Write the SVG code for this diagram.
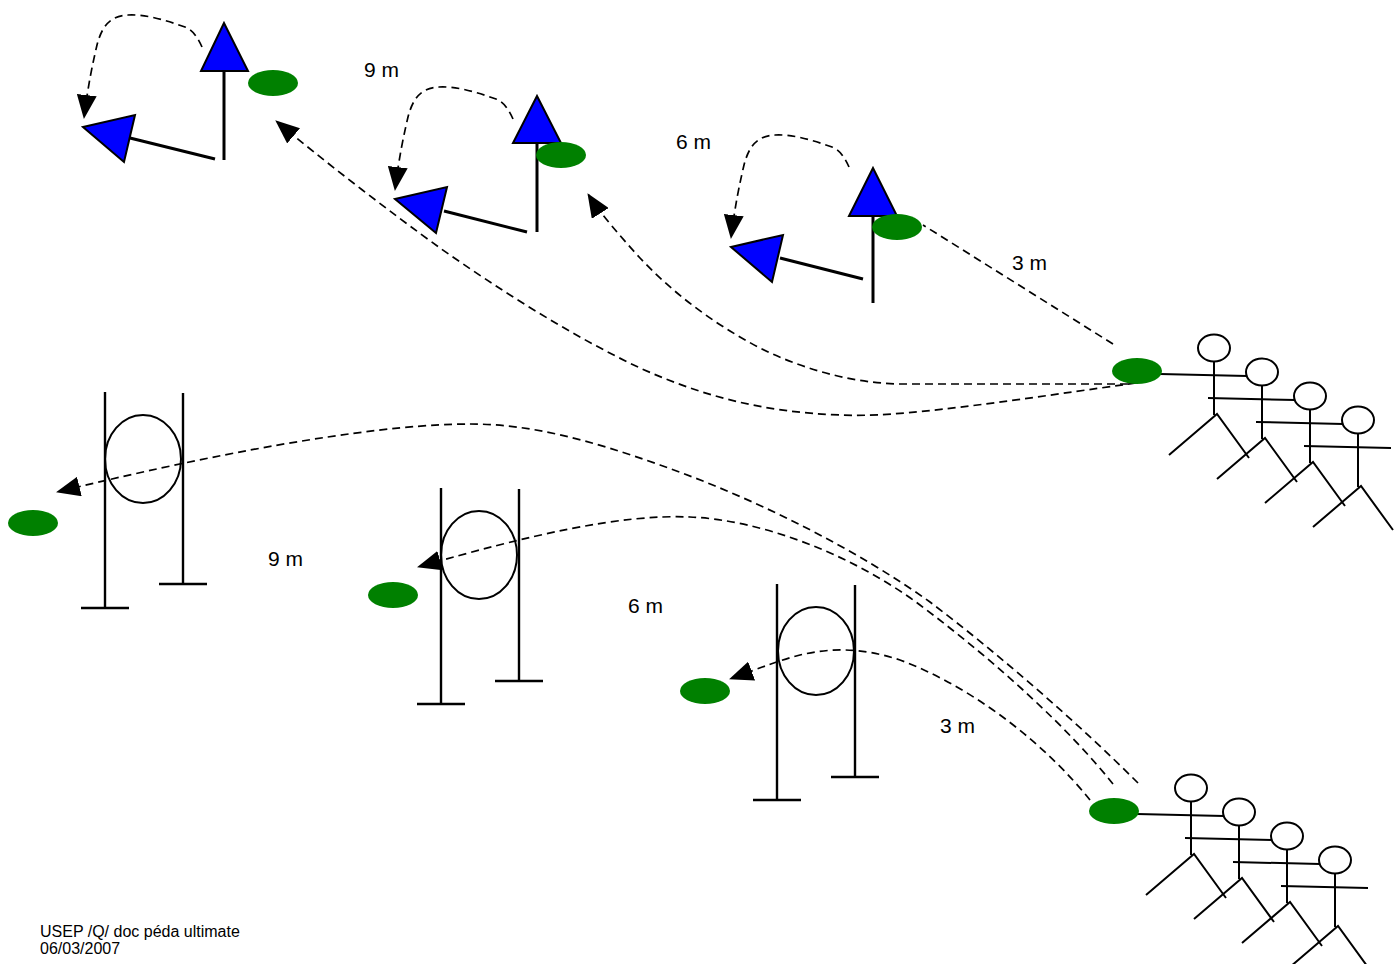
<svg xmlns="http://www.w3.org/2000/svg" xmlns:xlink="http://www.w3.org/1999/xlink" width="1400" height="964" viewBox="0 0 1400 964">
<style>
.dash{fill:none;stroke:#000;stroke-width:1.7;stroke-dasharray:8 5}
.cone{fill:#008000}
.flag{fill:#0000FF;stroke:#000;stroke-width:2;stroke-linejoin:miter}
.pole{stroke:#000;stroke-width:3;fill:none}
.post{stroke:#000;stroke-width:2.4;fill:none}
.hoop{fill:none;stroke:#000;stroke-width:2}
.fig{fill:none;stroke:#000;stroke-width:2}
.head{fill:#fff;stroke:#000;stroke-width:2}
text{font-family:"Liberation Sans",Arial,sans-serif;fill:#000}
.lbl{font-size:21px}
.foot{font-size:16px}
</style>
<defs>
<marker id="arr" markerUnits="userSpaceOnUse" viewBox="0 0 24 20" refX="23" refY="10" markerWidth="24" markerHeight="20" orient="auto">
<path d="M0,0 L24,10 L0,20 Z" fill="#000"/>
</marker>
<g id="fig" class="fig">
<line x1="0" y1="13.5" x2="0" y2="67"/>
<polyline points="-45,107 3,66 35,110"/>
<line x1="-54" y1="26" x2="33" y2="28"/>
<ellipse class="head" cx="0" cy="0" rx="16" ry="13.5"/>
</g>
<path id="turn" class="dash" d="M202,47 C198,38 193,30 185,27 C165,20 145,14 128,15 C110,16 102,26 97,45 C93,62 88,85 84,118" marker-end="url(#arr)"/>
</defs>
<rect width="1400" height="964" fill="#fff"/>

<g id="connectors">
<path class="dash" d="M1136,383 C1000,402 900,418 840,415 C760,412 700,395 640,368 C570,335 500,290 440,248 C390,212 320,158 276,121" marker-end="url(#arr)"/>
<path class="dash" d="M1128,384 L900,384 C850,383 800,368 760,348 C710,322 670,290 640,258 C620,236 600,213 588,194" marker-end="url(#arr)"/>
<path class="dash" d="M1113,344 L923,225"/>
<use xlink:href="#turn"/>
<use xlink:href="#turn" transform="translate(311,72)"/>
<use xlink:href="#turn" transform="translate(647,120)"/>
<path class="dash" d="M1138,783 C1080,725 1000,655 930,602 C860,552 760,500 660,465 C590,440 530,424 470,424 C390,424 250,445 57,492" marker-end="url(#arr)"/>
<path class="dash" d="M1113,784 C1070,730 1000,665 920,605 C850,553 760,520 690,517 C620,514 530,535 418,567" marker-end="url(#arr)"/>
<path class="dash" d="M1090,800 C1050,750 980,690 900,660 C860,647 830,648 800,655 C780,660 760,668 730,679" marker-end="url(#arr)"/>
</g>

<g id="flag-1">
<line class="pole" x1="224" y1="71" x2="224" y2="160"/>
<polygon class="flag" points="224,23 201,71 248,71"/>
<line class="pole" x1="215" y1="159" x2="130" y2="138"/>
<polygon class="flag" points="83,127 135,115 124,162"/>
<ellipse class="cone" cx="273" cy="83" rx="25" ry="13"/>
</g>
<g id="flag-2">
<line class="pole" x1="537" y1="143" x2="537" y2="232"/>
<polygon class="flag" points="537,96 513,143 561,143"/>
<line class="pole" x1="527" y1="232" x2="444" y2="211"/>
<polygon class="flag" points="395,199 447,187 436,233"/>
<ellipse class="cone" cx="561" cy="155" rx="25" ry="13"/>
</g>
<g id="flag-3">
<line class="pole" x1="873" y1="216" x2="873" y2="303"/>
<polygon class="flag" points="873,168 849,216 897,216"/>
<line class="pole" x1="863" y1="279" x2="780" y2="258"/>
<polygon class="flag" points="731,247 783,235 772,282"/>
<ellipse class="cone" cx="897" cy="227" rx="25" ry="13"/>
</g>

<g id="hoop-1">
<line class="post" x1="105" y1="392" x2="105" y2="608"/>
<line class="post" x1="81" y1="608" x2="129" y2="608"/>
<line class="post" x1="183" y1="393" x2="183" y2="584"/>
<line class="post" x1="159" y1="584" x2="207" y2="584"/>
<ellipse class="hoop" cx="143" cy="459" rx="38" ry="44"/>
<ellipse class="cone" cx="33" cy="523" rx="25" ry="13"/>
</g>
<g id="hoop-2">
<line class="post" x1="441" y1="488" x2="441" y2="704"/>
<line class="post" x1="417" y1="704" x2="465" y2="704"/>
<line class="post" x1="519" y1="489" x2="519" y2="681"/>
<line class="post" x1="495" y1="681" x2="543" y2="681"/>
<ellipse class="hoop" cx="479" cy="555" rx="38" ry="44"/>
<ellipse class="cone" cx="393" cy="595" rx="25" ry="13"/>
</g>
<g id="hoop-3">
<line class="post" x1="777" y1="584" x2="777" y2="800"/>
<line class="post" x1="753" y1="800" x2="801" y2="800"/>
<line class="post" x1="855" y1="585" x2="855" y2="777"/>
<line class="post" x1="831" y1="777" x2="879" y2="777"/>
<ellipse class="hoop" cx="816" cy="651" rx="38" ry="44"/>
<ellipse class="cone" cx="705" cy="691" rx="25" ry="13"/>
</g>

<g id="team-top">
<use xlink:href="#fig" transform="translate(1214,348)"/>
<use xlink:href="#fig" transform="translate(1262,372)"/>
<use xlink:href="#fig" transform="translate(1310,396)"/>
<use xlink:href="#fig" transform="translate(1358,420)"/>
<ellipse class="cone" cx="1137" cy="371" rx="25" ry="13"/>
</g>
<g id="team-bottom">
<use xlink:href="#fig" transform="translate(1191,788)"/>
<use xlink:href="#fig" transform="translate(1239,812)"/>
<use xlink:href="#fig" transform="translate(1287,836)"/>
<use xlink:href="#fig" transform="translate(1335,860)"/>
<ellipse class="cone" cx="1114" cy="811" rx="25" ry="13"/>
</g>

<g id="labels">
<text class="lbl" x="364" y="77">9 m</text>
<text class="lbl" x="676" y="149">6 m</text>
<text class="lbl" x="1012" y="270">3 m</text>
<text class="lbl" x="268" y="566">9 m</text>
<text class="lbl" x="628" y="613">6 m</text>
<text class="lbl" x="940" y="733">3 m</text>
</g>
<g id="footer">
<text class="foot" x="40" y="937">USEP /Q/ doc péda ultimate</text>
<text class="foot" x="40" y="954">06/03/2007</text>
</g>
</svg>
